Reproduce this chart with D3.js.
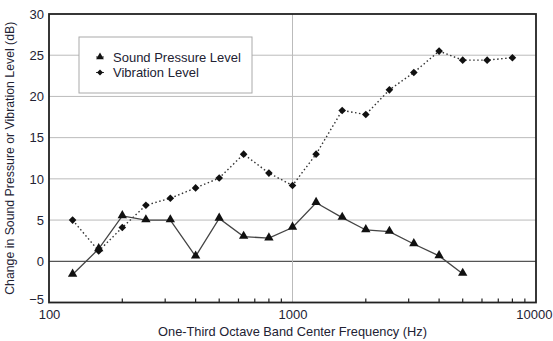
<!DOCTYPE html>
<html>
<head>
<meta charset="utf-8">
<script src="https://cdn.jsdelivr.net/npm/d3@7"></script>
<style>
body { margin: 0; background: #fff; }
svg { display: block; font-family: "Liberation Sans", Arial, sans-serif; }
</style>
</head>
<body>
<script>
// data
var freqs = [125, 160, 200, 250, 315, 400, 500, 630, 800, 1000, 1250, 1600, 2000, 2500, 3150, 4000, 5000, 6300, 8000];
var splValues = [-1.6, 1.5, 5.5, 5.0, 5.0, 0.6, 5.2, 3.0, 2.8, 4.1, 7.1, 5.3, 3.8, 3.6, 2.1, 0.65, -1.5];
var vibValues = [5.0, 1.25, 4.1, 6.8, 7.65, 8.9, 10.1, 13.0, 10.7, 9.2, 13.0, 18.3, 17.8, 20.8, 22.9, 25.5, 24.4, 24.4, 24.7];
var yTicks = [-5, 0, 5, 10, 15, 20, 25, 30];
var xTicks = [100, 1000, 10000];
var minorTicks = [200, 300, 400, 500, 600, 700, 800, 900, 2000, 3000, 4000, 5000, 6000, 7000, 8000, 9000];
var seriesNames = ['Sound Pressure Level', 'Vibration Level'];
//end data

var width = 553, height = 341;
var svg = d3.select('body').append('svg')
    .attr('width', width)
    .attr('height', height);

var x = d3.scaleLog().domain([100, 10000]).range([49, 536]);
var y = d3.scaleLinear().domain([-5, 30]).range([302.5, 14]);

var splData = splValues.map(function (v, i) { return { f: freqs[i], v: v }; });
var vibData = vibValues.map(function (v, i) { return { f: freqs[i], v: v }; });

// grid lines
svg.append('g').selectAll('line')
    .data(yTicks.filter(function (d) { return d > -5 && d < 30; }))
    .enter().append('line')
    .attr('x1', x(100)).attr('x2', x(10000))
    .attr('y1', function (d) { return y(d); })
    .attr('y2', function (d) { return y(d); })
    .attr('stroke', function (d) { return d === 0 ? '#555' : '#bbb'; })
    .attr('stroke-width', function (d) { return d === 0 ? 1.3 : 1; });
svg.append('line')
    .attr('x1', x(1000)).attr('x2', x(1000))
    .attr('y1', y(30)).attr('y2', y(-5))
    .attr('stroke', '#bbb');

// minor ticks along bottom, pointing in
svg.append('g').selectAll('line')
    .data(minorTicks)
    .enter().append('line')
    .attr('x1', function (d) { return x(d); })
    .attr('x2', function (d) { return x(d); })
    .attr('y1', y(-5)).attr('y2', y(-5) - 4)
    .attr('stroke', '#222').attr('stroke-width', 1.2);

// frame
svg.append('rect')
    .attr('x', x(100)).attr('y', y(30))
    .attr('width', x(10000) - x(100))
    .attr('height', y(-5) - y(30))
    .attr('fill', 'none')
    .attr('stroke', '#222')
    .attr('stroke-width', 1.8);

// y axis labels
var yAxis = d3.axisLeft(y).tickValues(yTicks).tickSize(0).tickPadding(5)
    .tickFormat(function (d) { return d < 0 ? '\u2212' + Math.abs(d) : d; });
var gy = svg.append('g').attr('transform', 'translate(' + x(100) + ',0)').call(yAxis);
gy.select('.domain').remove();
gy.selectAll('text').attr('font-size', 13).attr('fill', '#223').style('font-family', 'Liberation Sans, Arial, sans-serif');
gy.selectAll('.tick').filter(function (d) { return d === -5; }).select('text').attr('dy', '0.1em');

var xAxis = d3.axisBottom(x).tickValues(xTicks).tickSize(0).tickPadding(7)
    .tickFormat(d3.format('d'));
var gx = svg.append('g').attr('transform', 'translate(0,' + y(-5) + ')').call(xAxis);
gx.select('.domain').remove();
gx.selectAll('text').attr('font-size', 13).attr('fill', '#223').style('font-family', 'Liberation Sans, Arial, sans-serif');
// keep the last label inside the window
gx.selectAll('.tick').filter(function (d) { return d === 10000; }).select('text')
    .attr('text-anchor', 'end').attr('x', width - 1 - x(10000));

// axis titles
svg.append('text')
    .attr('transform', 'translate(14,' + ((y(30) + y(-5)) / 2) + ') rotate(-90)')
    .attr('text-anchor', 'middle')
    .attr('font-size', 12.3)
    .attr('fill', '#223')
    .text('Change in Sound Pressure or Vibration Level (dB)');
svg.append('text')
    .attr('x', x(1000)).attr('y', 336)
    .attr('text-anchor', 'middle')
    .attr('font-size', 12.8)
    .attr('fill', '#223')
    .text('One-Third Octave Band Center Frequency (Hz)');

// lines
var lineFunc = d3.line()
    .x(function (d) { return x(d.f); })
    .y(function (d) { return y(d.v); });

svg.append('path').datum(vibData)
    .attr('d', lineFunc)
    .attr('fill', 'none')
    .attr('stroke', '#333')
    .attr('stroke-width', 1.4)
    .attr('stroke-dasharray', '1.5,2.5');
svg.append('path').datum(splData)
    .attr('d', lineFunc)
    .attr('fill', 'none')
    .attr('stroke', '#444')
    .attr('stroke-width', 1.3);

var tri = d3.symbol().type(d3.symbolTriangle).size(38);
var sq = d3.symbol().type(d3.symbolSquare).size(29);

svg.append('g').selectAll('path')
    .data(vibData)
    .enter().append('path')
    .attr('d', sq)
    .attr('transform', function (d) { return 'translate(' + x(d.f) + ',' + y(d.v) + ') rotate(45)'; })
    .attr('fill', '#111');
svg.append('g').selectAll('path')
    .data(splData)
    .enter().append('path')
    .attr('d', tri)
    .attr('transform', function (d) { return 'translate(' + x(d.f) + ',' + (y(d.v) - 0.5) + ')'; })
    .attr('fill', '#111');

// legend
var legend = svg.append('g');
legend.append('rect')
    .attr('x', 79).attr('y', 37)
    .attr('width', 173).attr('height', 56)
    .attr('fill', '#fff')
    .attr('stroke', '#aaa');
var rows = legend.selectAll('g.row')
    .data(seriesNames)
    .enter().append('g')
    .attr('class', 'row')
    .attr('transform', function (d, i) { return 'translate(0,' + (57 + i * 15.5) + ')'; });
rows.append('line')
    .attr('x1', 96).attr('x2', 104)
    .attr('stroke', '#333');
rows.append('path')
    .attr('d', function (d, i) { return i === 0 ? d3.symbol().type(d3.symbolTriangle).size(26)() : d3.symbol().type(d3.symbolSquare).size(18)(); })
    .attr('transform', function (d, i) { return 'translate(100,0)' + (i === 1 ? ' rotate(45)' : ''); })
    .attr('fill', '#111');
rows.append('text')
    .attr('x', 113).attr('y', 4.5)
    .attr('font-size', 13)
    .attr('fill', '#223')
    .text(function (d) { return d; });
</script>
</body>
</html>
